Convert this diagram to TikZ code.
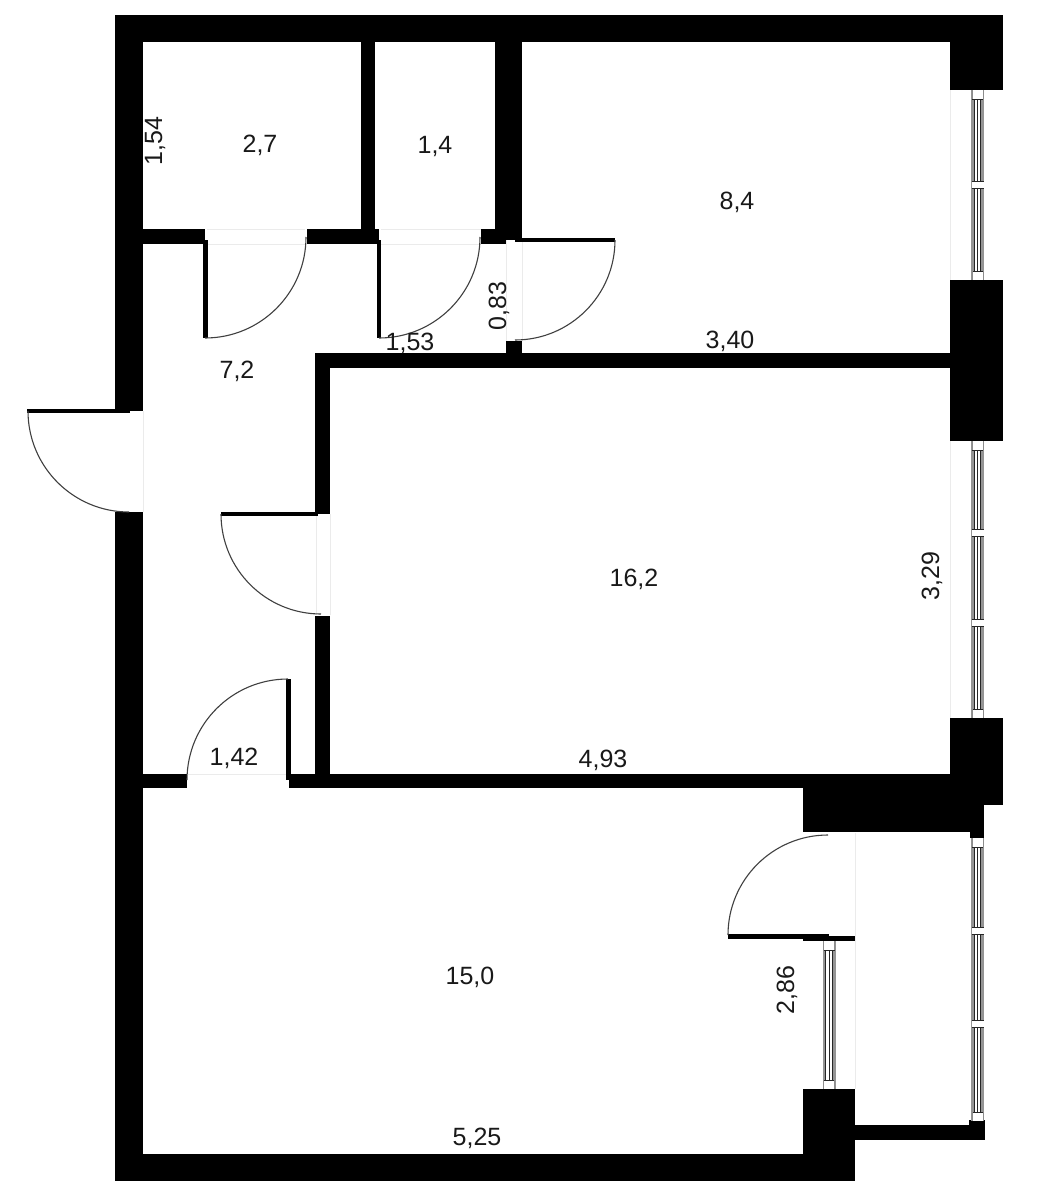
\documentclass[tikz,border=0pt]{standalone}
\usepackage{fontspec}
\setmainfont{Liberation Sans}
\tikzset{
  wall/.style={fill=black,draw=none},
  leaf/.style={fill=black,draw=none},
  swing/.style={draw=black!75,line width=1.1pt},
  gapline/.style={draw=black!8,line width=1pt},
  dim/.style={font=\fontsize{25}{29}\selectfont,inner sep=0pt,text=black!90},
  glassedge/.style={fill=black!42,draw=none},
  glassline/.style={draw=black!85,line width=1pt},
}
% window: left x, top y, bottom y, list of mullion centres
\newcommand{\winv}[4]{%
  \fill[glassedge] (#1,#2) rectangle (#1+13,#3);
  \fill[white] (#1+3.3,#2) rectangle (#1+9.9,#3);
  \draw[glassline] (#1+3.3,#2) -- (#1+3.3,#3);
  \draw[glassline] (#1+6.6,#2) -- (#1+6.6,#3);
  \draw[glassline] (#1+9.9,#2) -- (#1+9.9,#3);
  \fill[white] (#1+1,#2) rectangle (#1+12,#2+9);
  \fill[white] (#1+1,#3-9) rectangle (#1+12,#3);
  \draw[glassline] (#1+1,#2+9) -- (#1+12,#2+9);
  \draw[glassline] (#1+1,#3-9) -- (#1+12,#3-9);
  \draw[draw=black!45,line width=.9pt] (#1+1,#2) -- (#1+1,#2+9) (#1+12,#2) -- (#1+12,#2+9) (#1+1,#3-9) -- (#1+1,#3) (#1+12,#3-9) -- (#1+12,#3);
  \foreach \m in {#4}{%
    \fill[white] (#1+.5,\m-3) rectangle (#1+12.5,\m+3);
    \draw[glassline] (#1+.5,\m-3.5) -- (#1+12.5,\m-3.5) (#1+.5,\m+3.5) -- (#1+12.5,\m+3.5);
  }%
}
\begin{document}
\begin{tikzpicture}[x=1pt,y=-1pt]
\useasboundingbox (0,0) rectangle (1042,1200);
\fill[white] (0,0) rectangle (1042,1200);
% light lines in the openings
\draw[gapline] (207,229) -- (305,229) (207,244) -- (305,244);
\draw[gapline] (381,229) -- (481,229) (381,244) -- (481,244);
\draw[gapline] (506,240) -- (506,341) (522,242) -- (522,341);
\draw[gapline] (143,411) -- (143,512);
\draw[gapline] (316,516) -- (316,615) (330,514) -- (330,615);
\draw[gapline] (188,774) -- (287,774);
\draw[gapline] (950,90) -- (950,280) (950,441) -- (950,718);
\draw[gapline] (855,833) -- (855,1089);
% outer walls
\fill[wall] (115,15) rectangle (1003,42);
\fill[wall] (115,15) rectangle (143,411);
\fill[wall] (115,512) rectangle (143,1181);
\fill[wall] (115,1154) rectangle (855,1181);
% right hand piers
\fill[wall] (950,15) rectangle (1003,90);
\fill[wall] (950,280) rectangle (1003,441);
\fill[wall] (950,718) rectangle (1003,805);
% balcony and lower room
\fill[wall] (803,774) rectangle (984,832);
\fill[wall] (970,820) rectangle (984,838);
\fill[wall] (803,1089) rectangle (855,1181);
\fill[wall] (855,1125) rectangle (985,1140);
\fill[wall] (969,1120) rectangle (985,1140);
\fill[wall] (803,936) rectangle (855,941);
% inner walls
\fill[wall] (361,42) rectangle (375,244);
\fill[wall] (495,42) rectangle (522,240);
\fill[wall] (143,229) rectangle (205,244);
\fill[wall] (307,229) rectangle (379,244);
\fill[wall] (481,229) rectangle (506,244);
\fill[wall] (506,341) rectangle (522,368);
\fill[wall] (315,353) rectangle (950,368);
\fill[wall] (315,353) rectangle (330,514);
\fill[wall] (315,616) rectangle (330,788);
\fill[wall] (143,774) rectangle (187,788);
\fill[wall] (289,774) rectangle (950,788);
% door leaves and swings
\fill[leaf] (203,240) rectangle (208,338);
\draw[swing] (205,338) arc[start angle=90,end angle=0,radius=101];
\fill[leaf] (377,240) rectangle (381,338);
\draw[swing] (379,338) arc[start angle=90,end angle=0,radius=101];
\fill[leaf] (515,238) rectangle (615,242);
\draw[swing] (615,240) arc[start angle=0,end angle=90,radius=100];
\fill[leaf] (27,409) rectangle (130,413);
\draw[swing] (28,411) arc[start angle=180,end angle=90,radius=101];
\fill[leaf] (221,512) rectangle (318,516);
\draw[swing] (221,514) arc[start angle=180,end angle=90,radius=100];
\fill[leaf] (286,679) rectangle (291,780);
\draw[swing] (288,679) arc[start angle=270,end angle=180,radius=101];
\fill[leaf] (728,934) rectangle (829,939);
\draw[swing] (728,935) arc[start angle=180,end angle=270,radius=100];
% windows
\winv{971}{90}{280}{185}
\winv{971}{441}{718}{533,623}
\winv{971}{838}{1121}{931,1024}
\winv{822.5}{941}{1089}{}
% labels
\node[dim] (a27) at (260,145) {2,7};
\node[dim] (a14) at (435,146) {1,4};
\node[dim] (a84) at (737,202) {8,4};
\node[dim] (a72) at (237,371) {7,2};
\node[dim] (a162) at (634,579) {16,2};
\node[dim] (a150) at (470,977) {15,0};
\node[dim] (d142) at (234,758) {1,42};
\node[dim] (d493) at (603,760) {4,93};
\node[dim] (d340) at (730,341) {3,40};
\node[dim] (d153) at (410,343) {1,53};
\node[dim] (d525) at (477,1138) {5,25};
\node[dim,rotate=90] (d154) at (155,141) {1,54};
\node[dim,rotate=90] (d083) at (499,306) {0,83};
\node[dim,rotate=90] (d329) at (932,576) {3,29};
\node[dim,rotate=90] (d286) at (787,990) {2,86};
\end{tikzpicture}
\end{document}
